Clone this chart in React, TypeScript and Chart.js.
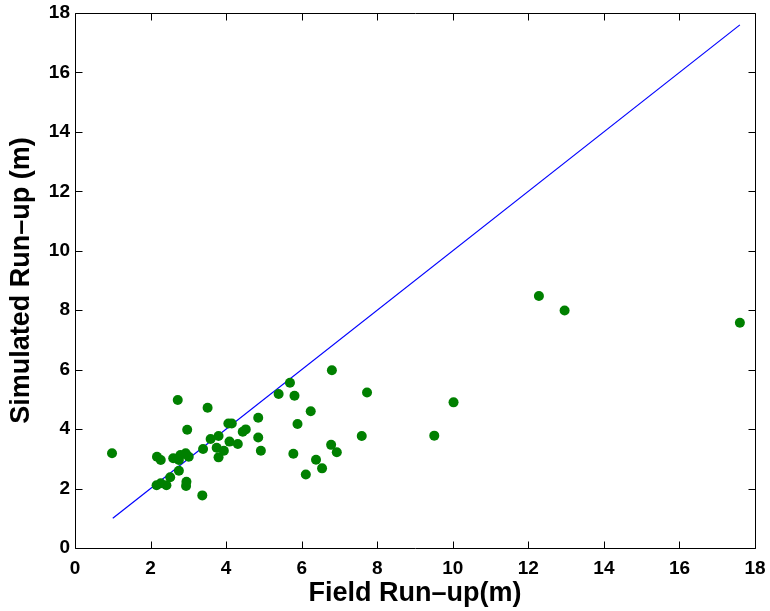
import React, { useEffect, useRef } from "react";
import { Chart, registerables } from "chart.js";

Chart.register(...registerables);

const fieldRunup = [
  0.98, 2.72, 3.51, 2.97, 2.17, 2.27, 2.6, 2.79, 2.93, 2.75, 3.01, 2.75, 2.52, 2.16, 2.27, 2.42, 2.95, 2.94,
  3.37, 3.39, 3.59, 3.8, 3.75, 3.94, 3.8, 4.09, 4.06, 4.15, 4.31, 4.44, 4.52, 4.85, 4.85, 4.92, 5.39, 5.69,
  5.81, 5.89, 6.24, 6.8, 7.73, 5.78, 7.59, 6.78, 6.93, 6.38, 6.54, 6.11, 9.51, 10.02, 12.28, 12.96, 17.6,
];
const simulatedRunup = [
  3.19, 4.98, 4.72, 3.98, 3.07, 2.96, 3.02, 3.13, 3.19, 2.96, 3.07, 2.6, 2.38, 2.11, 2.18, 2.11, 2.23, 2.09,
  1.77, 3.33, 3.67, 3.77, 3.37, 3.27, 3.05, 3.58, 4.19, 4.19, 3.5, 3.91, 3.99, 4.38, 3.72, 3.27, 5.18, 5.56,
  5.12, 4.17, 4.6, 5.98, 5.23, 3.17, 3.77, 3.47, 3.22, 2.97, 2.68, 2.47, 3.78, 4.9, 8.48, 7.99, 7.58,
];
const lineX = [1, 17.6];
const lineY = [1, 17.6];
const tickValues = [0, 2, 4, 6, 8, 10, 12, 14, 16, 18];

const FONT = "'Liberation Sans', Arial, Helvetica, sans-serif";

const framePlugin = {
  id: "frameTicks",
  afterDraw(chart: any) {
    const { ctx } = chart;
    const xs = chart.scales.x;
    const ys = chart.scales.y;
    const L = Math.round(xs.getPixelForValue(0)) + 0.5;
    const R = Math.round(xs.getPixelForValue(18)) + 0.5;
    const T = Math.round(ys.getPixelForValue(18)) + 0.5;
    const B = Math.round(ys.getPixelForValue(0)) + 0.5;
    const len = 7;
    ctx.save();
    ctx.strokeStyle = "#000";
    ctx.lineWidth = 1;
    ctx.beginPath();
    ctx.rect(L, T, R - L, B - T);
    for (const v of tickValues) {
      const px = Math.round(xs.getPixelForValue(v)) + 0.5;
      ctx.moveTo(px, B);
      ctx.lineTo(px, B - len);
      ctx.moveTo(px, T);
      ctx.lineTo(px, T + len);
      const py = Math.round(ys.getPixelForValue(v)) + 0.5;
      ctx.moveTo(L, py);
      ctx.lineTo(L + len, py);
      ctx.moveTo(R, py);
      ctx.lineTo(R - len, py);
    }
    ctx.stroke();
    ctx.restore();
  },
};

export default function App() {
  const ref = useRef<HTMLCanvasElement | null>(null);
  useEffect(() => {
    document.body.style.margin = "0";
    const canvas = ref.current!;
    const scatter = fieldRunup.map((x, i) => ({ x, y: simulatedRunup[i] }));
    const line = lineX.map((x, i) => ({ x, y: lineY[i] }));
    const chart = new Chart(canvas, {
      type: "scatter",
      data: {
        datasets: [
          {
            type: "line",
            data: line,
            borderColor: "#0000ff",
            borderWidth: 1.2,
            pointRadius: 0,
            fill: false,
            order: 2,
          } as any,
          {
            data: scatter,
            backgroundColor: "#008000",
            borderColor: "#008000",
            pointRadius: 5,
            borderWidth: 0,
            order: 1,
          },
        ],
      },
      options: {
        responsive: false,
        animation: false,
        devicePixelRatio: 1,
        layout: { padding: { top: 13, right: 15, left: 0, bottom: 0 } },
        plugins: { legend: { display: false }, tooltip: { enabled: false } },
        scales: {
          x: {
            type: "linear",
            min: 0,
            max: 18,
            afterFit: (s: any) => {
              s.height = 63;
              s.paddingLeft = 0;
              s.paddingRight = 0;
            },
            ticks: {
              stepSize: 2,
              padding: 9,
              color: "#000",
              maxRotation: 0,
              font: { family: FONT, size: 19, weight: "bold" },
            },
            grid: { display: false, drawTicks: false },
            border: { display: false },
            title: {
              display: true,
              text: "Field Run\u2013up(m)",
              color: "#000",
              font: { family: FONT, size: 27, weight: "bold" },
              padding: { top: 0, bottom: 1 },
            },
          },
          y: {
            type: "linear",
            min: 0,
            max: 18,
            afterFit: (s: any) => {
              s.width = 75;
              s.paddingTop = 0;
              s.paddingBottom = 0;
            },
            ticks: {
              stepSize: 2,
              padding: 5,
              color: "#000",
              font: { family: FONT, size: 19, weight: "bold" },
            },
            grid: { display: false, drawTicks: false },
            border: { display: false },
            title: {
              display: true,
              text: "Simulated Run\u2013up (m)",
              color: "#000",
              font: { family: FONT, size: 27, weight: "bold" },
              padding: { top: 5, bottom: 0 },
            },
          },
        },
      },
      plugins: [framePlugin],
    });
    return () => chart.destroy();
  }, []);
  return <canvas ref={ref} width={770} height={611} style={{ display: "block" }} />;
}
